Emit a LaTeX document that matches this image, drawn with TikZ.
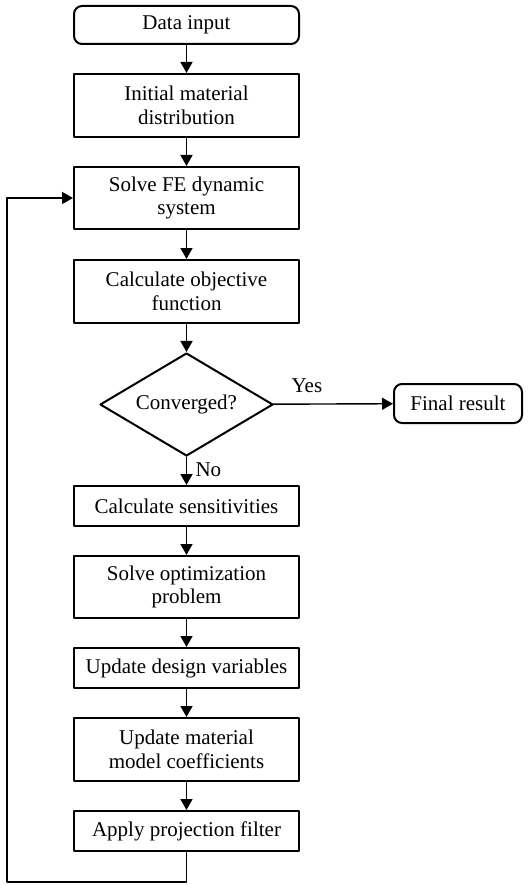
\documentclass[tikz,border=0pt]{standalone}
\usepackage{fontspec}
\setmainfont{Liberation Serif}
\usetikzlibrary{shapes.geometric,arrows.meta}
\begin{document}
\begin{tikzpicture}[x=1pt, y=1pt, line cap=round, line join=round,
    box/.style={draw, line width=2pt, minimum width=225pt, align=center, inner sep=0pt, font=\fontsize{21}{23.5}\selectfont},
    term/.style={box, rounded corners=8pt},
    decide/.style={draw, diamond, line width=2pt, minimum width=173pt, minimum height=103pt, shape aspect=1.68, inner sep=0pt, font=\fontsize{21}{23.5}\selectfont},
    flow/.style={line width=1.4pt, -{Triangle[length=11pt,width=12pt]}}]
    \useasboundingbox (0,0) rectangle (529,-885);
    \node[term, minimum height=38pt] (input) at (186.5,-25) {Data input};
    \node[box, minimum height=63pt] (init) at (186.5,-105.5) {Initial material\\distribution};
    \node[box, minimum height=62pt] (solve) at (186.5,-198) {Solve FE dynamic\\system};
    \node[box, minimum height=63pt] (obj) at (186.5,-291.5) {Calculate objective\\function};
    \node[decide] (conv) at (186.5,-404.5) {Converged?};
    \node[term, minimum width=128pt, minimum height=39pt] (final) at (458,-403.5) {Final result};
    \node[box, minimum height=40pt] (sens) at (186.5,-506) {Calculate sensitivities};
    \node[box, minimum height=62pt] (opt) at (186.5,-587) {Solve optimization\\problem};
    \node[box, minimum height=40pt] (upd) at (186.5,-668) {Update design variables};
    \node[box, minimum height=63pt] (coef) at (186.5,-749.5) {Update material\\model coefficients};
    \node[box, minimum height=40pt] (proj) at (186.5,-831) {Apply projection filter};
    \coordinate (loopa) at (186.5,-882);
    \coordinate (loopb) at (7,-882);
    \coordinate (loopc) at (7,-198);
    \draw[flow] (input) -- (init);
    \draw[flow] (init) -- (solve);
    \draw[flow] (solve) -- (obj);
    \draw[flow] (obj) -- (conv);
    \draw[flow] (conv) -- node[pos=0.28, above=7pt, font=\fontsize{21}{23.5}\selectfont] {Yes} (final);
    \draw[flow] (conv) -- node[pos=0.45, right=5pt, font=\fontsize{21}{23.5}\selectfont] {No} (sens);
    \draw[flow] (sens) -- (opt);
    \draw[flow] (opt) -- (upd);
    \draw[flow] (upd) -- (coef);
    \draw[flow] (coef) -- (proj);
    \draw[flow] (proj) -- (loopa) -- (loopb) -- (loopc) -- (solve);
\end{tikzpicture}
\end{document}
